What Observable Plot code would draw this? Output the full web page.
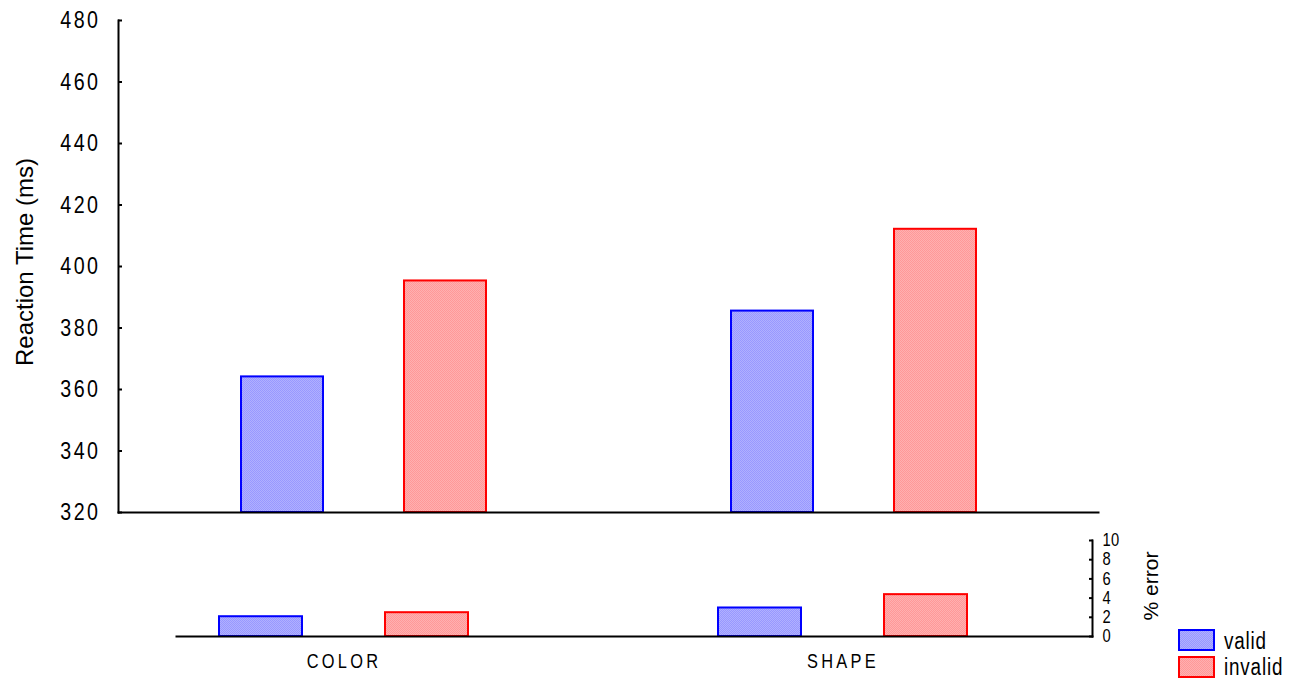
<!DOCTYPE html>
<html><head><meta charset="utf-8">
<script src="https://cdn.jsdelivr.net/npm/d3@7"></script>
<script src="https://cdn.jsdelivr.net/npm/@observablehq/plot@0.6"></script>
<style>
html,body{margin:0;padding:0;background:#fff;}
#chart{position:relative;width:1290px;height:683px;overflow:hidden;font-family:"Liberation Sans",Arial,sans-serif;color:#000;}
#top,#bottom{position:absolute;left:0;}
#top{top:0;z-index:2}
#bottom{top:520px;z-index:1}
.lbl{position:absolute;white-space:nowrap;color:#000;line-height:1;}
.sw{position:absolute;width:33px;height:18px;border:2px solid;}
</style></head><body>
<svg width="0" height="0" style="position:absolute">
<defs>
<pattern id="pat-valid" width="2" height="2" patternUnits="userSpaceOnUse">
<rect width="2" height="2" fill="#b0b0ff"/><rect width="1" height="1" fill="#9898ff"/><rect x="1" y="1" width="1" height="1" fill="#9898ff"/>
</pattern>
<pattern id="pat-invalid" width="2" height="2" patternUnits="userSpaceOnUse">
<rect width="2" height="2" fill="#ffb0b0"/><rect width="1" height="1" fill="#ff9898"/><rect x="1" y="1" width="1" height="1" fill="#ff9898"/>
</pattern>
</defs></svg>
<div id="chart">
  <div id="top"></div>
  <div id="bottom"></div>
  <div class="lbl" style="left:25px;top:262px;font-size:24px;transform:translate(-50%,-50%) rotate(-90deg);">Reaction Time (ms)</div>
  <div class="lbl" style="left:1150px;top:586px;font-size:21px;transform:translate(-50%,-50%) rotate(-90deg);">% error</div>
  <div id="legend"></div>
</div>
<script>
// ---- data ----
const categories = ["COLOR", "SHAPE"];
const conditions = ["valid", "invalid"];
const rtValid = [364.1, 385.5];
const rtInvalid = [395.3, 412.1];
const errValid = [2.06, 2.97];
const errInvalid = [2.48, 4.36];
const rtDomain = [320, 480];
const rtTicks = [320, 340, 360, 380, 400, 420, 440, 460, 480];
const errDomain = [0, 10];
const errTicks = [0, 2, 4, 6, 8, 10];

// ---- styles ----
const condFill = {valid: "url(#pat-valid)", invalid: "url(#pat-invalid)"};
const condStroke = {valid: "#0000ff", invalid: "#ff0000"};
const condense = 0.82;

const rows = categories.flatMap((c, i) => [
  {cat: c, cond: "valid", rt: rtValid[i], err: errValid[i]},
  {cat: c, cond: "invalid", rt: rtInvalid[i], err: errInvalid[i]}
]);

function narrowTexts(svg, label, k) {
  svg.querySelectorAll(`[aria-label="${label}"] text`).forEach(t => {
    const tr = t.getAttribute("transform");
    if (tr) t.setAttribute("transform", tr + ` scale(${k},1)`);
    else {
      const x = t.getAttribute("x") || 0, y = t.getAttribute("y") || 0;
      t.removeAttribute("x"); t.removeAttribute("y");
      t.setAttribute("transform", `translate(${x},${y}) scale(${k},1)`);
    }
  });
}

function withFallback(build) {
  try { return build(true); } catch (e) { return build(false); }
}

// ---- top panel: reaction time ----
const topPlot = withFallback(useSuper => Plot.plot({
  width: 1290, height: 520,
  marginTop: 20, marginBottom: 8, marginLeft: 118, marginRight: 192,
  style: {fontFamily: "'Liberation Sans',Arial,sans-serif", fontSize: "24px", letterSpacing: "3px", background: "transparent", color: "#000", overflow: "visible"},
  fx: {domain: categories, padding: 0, axis: null, round: true},
  x: {domain: conditions, paddingInner: 0.5, paddingOuter: 0.75, axis: null, round: true},
  y: {domain: rtDomain, axis: null},
  marks: [
    ...conditions.map(cond => Plot.barY(rows.filter(d => d.cond === cond), {
      fx: "cat", x: "cond", y1: () => rtDomain[0], y2: "rt",
      fill: condFill[cond], stroke: condStroke[cond], strokeWidth: 2
    })),
    Plot.axisY(rtTicks, {anchor: "left", label: null, tickSize: -4, tickPadding: 22, fontSize: 24, strokeWidth: 2}),
    ...(useSuper
      ? [Plot.frame({anchor: "left", facet: "super", strokeWidth: 2}),
         Plot.frame({anchor: "bottom", facet: "super", strokeWidth: 2})]
      : [Plot.frame({anchor: "left", facetAnchor: "left", strokeWidth: 2}),
         Plot.ruleY([rtDomain[0]], {strokeWidth: 2, insetLeft: -1, insetRight: -1})])
  ]
}));
narrowTexts(topPlot, "y-axis tick label", condense);
document.getElementById("top").appendChild(topPlot);

// ---- bottom panel: % error ----
const botPlot = withFallback(useSuper => Plot.plot({
  width: 1290, height: 163,
  marginTop: 20, marginBottom: 47, marginLeft: 94, marginRight: 198,
  style: {fontFamily: "'Liberation Sans',Arial,sans-serif", fontSize: "20px", letterSpacing: "4px", background: "transparent", color: "#000", overflow: "visible"},
  fx: {domain: categories, padding: 0, round: true},
  x: {domain: conditions, paddingInner: 0.5, paddingOuter: 0.75, axis: null, round: true},
  y: {domain: errDomain, axis: null},
  marks: [
    ...conditions.map(cond => Plot.barY(rows.filter(d => d.cond === cond), {
      fx: "cat", x: "cond", y: "err",
      fill: condFill[cond], stroke: condStroke[cond], strokeWidth: 2
    })),
    Plot.axisFx({anchor: "bottom", label: null, tickSize: 0, tickPadding: 17, fontSize: 20}),
    Plot.axisY(errTicks, {anchor: "right", label: null, tickSize: -4, tickPadding: 14, fontSize: 18, strokeWidth: 2}),
    ...(useSuper
      ? [Plot.frame({anchor: "right", facet: "super", strokeWidth: 2}),
         Plot.frame({anchor: "bottom", facet: "super", insetLeft: 82, strokeWidth: 2})]
      : [Plot.frame({anchor: "right", facetAnchor: "right", strokeWidth: 2}),
         Plot.ruleY([0], {facetAnchor: "left", insetLeft: 82, insetRight: -1, strokeWidth: 2}),
         Plot.ruleY([0], {facetAnchor: "right", insetLeft: -1, strokeWidth: 2})])
  ]
}));
botPlot.querySelectorAll('[aria-label="y-axis tick label"]').forEach(g => g.style.letterSpacing = "0.5px");
narrowTexts(botPlot, "y-axis tick label", condense);
narrowTexts(botPlot, "fx-axis tick label", condense);
document.getElementById("bottom").appendChild(botPlot);

// ---- legend ----
const legend = document.getElementById("legend");
conditions.forEach((cond, i) => {
  const sw = document.createElement("div");
  sw.className = "sw";
  sw.style.left = "1178px";
  sw.style.top = (629 + i * 27) + "px";
  sw.style.borderColor = condStroke[cond];
  sw.innerHTML = `<svg width="33" height="18" style="display:block"><rect width="33" height="18" fill="${condFill[cond]}"/></svg>`;
  legend.appendChild(sw);
  const t = document.createElement("div");
  t.className = "lbl";
  t.style.left = "1224px";
  t.style.top = (641 + i * 26) + "px";
  t.style.fontSize = "23px";
  t.style.letterSpacing = "1px";
  t.style.transformOrigin = "0 50%";
  t.style.transform = `translateY(-50%) scaleX(${condense})`;
  t.textContent = cond;
  legend.appendChild(t);
});
</script>
</body></html>
